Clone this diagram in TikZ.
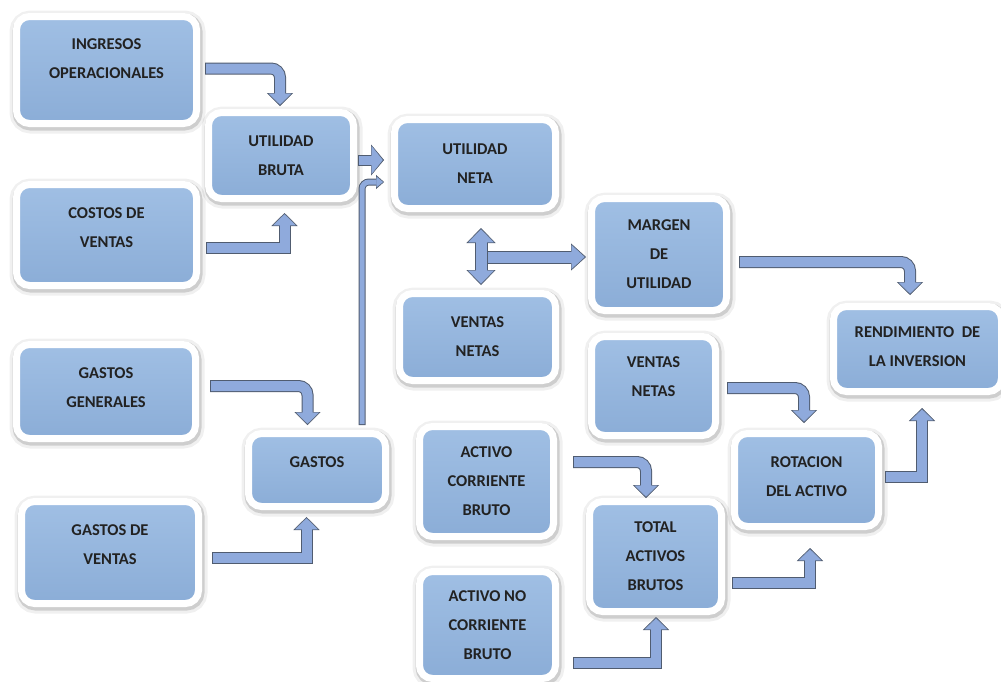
\documentclass[tikz,border=0pt]{standalone}
\usepackage{fontspec}
\setmainfont{Carlito}
\usepackage{tikz}
\usetikzlibrary{arrows.meta}
\definecolor{boxtop}{HTML}{A0BFE4}
\definecolor{boxbot}{HTML}{8BADD7}
\definecolor{arrfill}{HTML}{8FAADC}
\definecolor{arrline}{HTML}{505C70}
\definecolor{txt}{HTML}{222222}

\begin{document}
\begin{tikzpicture}[x=1pt,y=-1pt,
  caja/.style={draw=white, line width=7pt, rounded corners=13pt, top color=boxtop, bottom color=boxbot,
    preaction={draw=black, draw opacity=.06, line width=16pt, transform canvas={xshift=1pt,yshift=-2pt}},
    preaction={draw=black, draw opacity=.14, line width=10pt, transform canvas={xshift=1pt,yshift=-2pt}},
    align=center, text=txt, font=\fontsize{16.5}{29}\selectfont\bfseries, inner sep=0pt},
  lift/.style={text depth=#1},
  blk inner/.style={shorten <=1pt},
  blkbase/.style n args={4}{draw=arrline, line width=#1, -{Triangle[width=#2,length=#3,line width=.5pt]},
    postaction={draw=arrfill, line width=#1-2pt, -{Triangle[width=#4,length=#3-2pt,line width=.5pt]}, shorten >=1.3pt, blk inner}},
  blk/.style={blkbase={12pt}{26pt}{13pt}{22.5pt}},
  blkbig/.style={blkbase={11pt}{31pt}{13pt}{27.5pt}},
  curva/.style={rounded corners=9pt},
  dblk/.style={draw=arrline, line width=13pt, {Triangle[width=29pt,length=15pt,line width=.5pt]}-{Triangle[width=29pt,length=15pt,line width=.5pt]},
    postaction={draw=arrfill, line width=11pt, {Triangle[width=25.5pt,length=13pt,line width=.5pt]}-{Triangle[width=25.5pt,length=13pt,line width=.5pt]}, shorten >=1.3pt, shorten <=1.3pt}},
  fino/.style={draw=arrline, line width=7pt, rounded corners=7pt, -{Triangle[width=14pt,length=8pt,line width=.4pt]},
    postaction={draw=arrfill, line width=5pt, -{Triangle[width=10.5pt,length=6.5pt,line width=.4pt]}, shorten >=1pt, shorten <=1pt}}]
\path[use as bounding box, fill=white] (0,0) rectangle (1001,681);

\node[caja, minimum width=180pt, minimum height=107pt, lift=23pt] (IO) at (106.5,70) {INGRESOS\\OPERACIONALES};
\node[caja, minimum width=145pt, minimum height=86pt] (UB) at (281,155.5) {UTILIDAD\\BRUTA};
\node[caja, minimum width=180pt, minimum height=101pt, lift=15pt] (CV) at (106.5,235) {COSTOS DE\\VENTAS};
\node[caja, minimum width=161pt, minimum height=89pt] (UN) at (475,164) {UTILIDAD\\NETA};
\node[caja, minimum width=135pt, minimum height=112pt] (MU) at (659,254.5) {MARGEN\\DE\\UTILIDAD};
\node[caja, minimum width=156pt, minimum height=87pt] (VN) at (477.5,337) {VENTAS\\NETAS};
\node[caja, minimum width=168pt, minimum height=85pt, lift=5pt] (RI) at (917.5,349) {RENDIMIENTO~~DE\\LA INVERSION};
\node[caja, minimum width=124pt, minimum height=99pt, lift=18pt] (VNb) at (653.5,386) {VENTAS\\NETAS};
\node[caja, minimum width=179pt, minimum height=94pt, lift=7pt] (GG) at (106,391.5) {GASTOS\\GENERALES};
\node[caja, minimum width=137pt, minimum height=73pt, lift=16pt] (G) at (317,470) {GASTOS};
\node[caja, minimum width=177pt, minimum height=102pt, lift=15pt] (GV) at (110,552.5) {GASTOS DE\\VENTAS};
\node[caja, minimum width=134pt, minimum height=110pt] (AC) at (486.5,481.5) {ACTIVO\\CORRIENTE\\BRUTO};
\node[caja, minimum width=136pt, minimum height=107pt] (ANC) at (487.5,625) {ACTIVO NO\\CORRIENTE\\BRUTO};
\node[caja, minimum width=132pt, minimum height=110pt] (TAB) at (655.5,556.5) {TOTAL\\ACTIVOS\\BRUTOS};
\node[caja, minimum width=144pt, minimum height=93pt, lift=6pt] (RA) at (806.5,480) {ROTACION\\DEL ACTIVO};
\coordinate (X) at (481,257);

\draw[blk, curva] ([xshift=5pt,yshift=1.5pt]IO.east) -| ([xshift=-1pt,yshift=3pt]UB.north);
\draw[blk] ([xshift=6pt,yshift=-12.5pt]CV.east) -| ([xshift=3.5pt,yshift=-11pt]UB.south);
\draw[blkbig] ([xshift=1pt,yshift=-4.5pt]UB.east) -- ([xshift=-7pt,yshift=4pt]UN.west);
\draw[fino] ([xshift=45pt,yshift=5pt]G.north) |- ([xshift=-7pt,yshift=-18pt]UN.west);
\draw[blkbase={13pt}{27pt}{15pt}{23.5pt}, blk inner/.style={shorten <=-2pt}] ([xshift=6pt]X) -- ([xshift=-2pt]X -| MU.west);
\draw[dblk] ([yshift=-16pt]UN.south -| X) -- ([yshift=5pt]VN.north -| X);
\draw[blk, curva] ([xshift=9pt,yshift=-7.5pt]MU.east) -| ([xshift=-7.5pt,yshift=8pt]RI.north);
\draw[blk, curva] ([xshift=8pt,yshift=-2pt]VNb.east) -| ([xshift=-2.5pt,yshift=7pt]RA.north);
\draw[blk] ([xshift=3pt,yshift=3pt]RA.east) -| ([xshift=4.5pt,yshift=-13pt]RI.south);
\draw[blk, curva] ([xshift=11pt,yshift=5.5pt]GG.east) -| ([xshift=-9.5pt,yshift=5pt]G.north);
\draw[blk] ([xshift=10pt,yshift=-5.5pt]GV.east) -| ([xshift=-10.5pt,yshift=-7pt]G.south);
\draw[blk, curva] ([xshift=16pt,yshift=19.5pt]AC.east) -| ([xshift=-9.5pt]TAB.north);
\draw[blk] ([xshift=14pt,yshift=-37.5pt]ANC.east) -| ([xshift=0.5pt,yshift=-2pt]TAB.south);
\draw[blk] ([xshift=7pt,yshift=-26.5pt]TAB.east) -| ([xshift=3.5pt,yshift=-18pt]RA.south);
\end{tikzpicture}
\end{document}
